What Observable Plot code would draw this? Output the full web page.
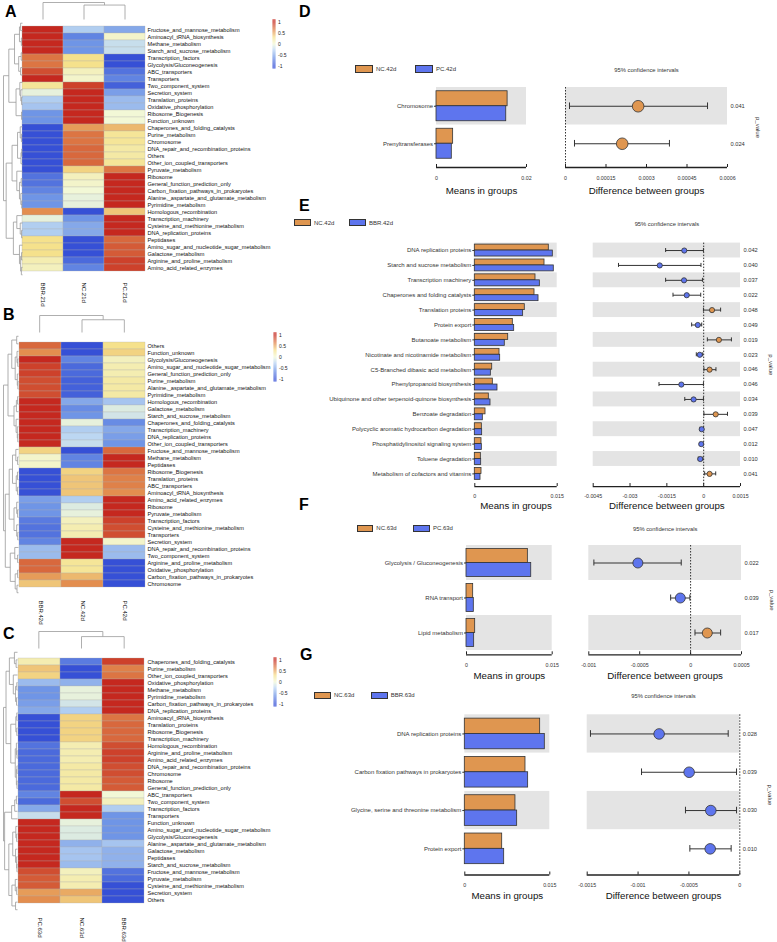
<!DOCTYPE html>
<html><head><meta charset="utf-8">
<script src="https://cdn.jsdelivr.net/npm/d3@7"></script>
<script src="https://cdn.jsdelivr.net/npm/@observablehq/plot@0.6"></script>
<style>
body{margin:0;background:#fff;}
#fig{position:relative;width:777px;height:942px;overflow:hidden;font-family:"Liberation Sans",Arial,sans-serif;background:#fff;}
.letter{position:absolute;font-weight:bold;font-size:16px;line-height:16px;color:#000;}
.lbox{position:absolute;box-sizing:border-box;border:1px solid #333;}
.ltxt{position:absolute;font-size:6px;color:#333;white-space:nowrap;}
</style>
</head><body><div id="fig"></div>
<script>
// ---------------- Heatmap data ----------------
const A_COLS = ["BBR.21d", "NC.21d", "PC.21d"];
const A_ROWS = ["Fructose_and_mannose_metabolism","Aminoacyl_tRNA_biosynthesis","Methane_metabolism","Starch_and_sucrose_metabolism","Transcription_factors","Glycolysis/Gluconeogenesis","ABC_transporters","Transporters","Two_component_system","Secretion_system","Translation_proteins","Oxidative_phosphorylation","Ribosome_Biogenesis","Function_unknown","Chaperones_and_folding_catalysts","Purine_metabolism","Chromosome","DNA_repair_and_recombination_proteins","Others","Other_ion_coupled_transporters","Pyruvate_metabolism","Ribosome","General_function_prediction_only","Carbon_fixation_pathways_in_prokaryotes","Alanine,_aspartate_and_glutamate_metabolism","Pyrimidine_metabolism","Homologous_recombination","Transcription_machinery","Cysteine_and_methionine_metabolism","DNA_replication_proteins","Peptidases","Amino_sugar_and_nucleotide_sugar_metabolism","Galactose_metabolism","Arginine_and_proline_metabolism","Amino_acid_related_enzymes"];
const A_VALUES = [[1.0,-0.3,-0.5],[1.0,-0.7,0.05],[1.0,-0.6,-0.2],[1.0,-0.6,-0.2],[0.7,0.3,-1.0],[0.7,0.3,-1.0],[0.85,0.1,-0.8],[1.0,0.05,-0.7],[0.25,0.9,-0.9],[-0.05,1.0,-0.55],[-0.3,1.0,-0.4],[-0.35,1.0,-0.4],[-0.6,1.0,0.0],[-0.6,1.0,0.0],[-1.0,0.55,0.45],[-1.0,0.7,0.25],[-1.0,0.7,0.25],[-1.0,0.75,0.2],[-1.0,0.75,0.2],[-1.0,0.75,0.25],[-1.0,0.35,0.7],[-0.8,0.1,1.0],[-0.8,0.05,1.0],[-0.7,0.0,1.0],[-0.6,-0.05,1.0],[-0.6,-0.05,1.0],[0.6,-1.0,0.4],[-0.05,-0.6,1.0],[-0.3,-0.5,1.0],[-0.3,-0.5,1.0],[0.3,-1.0,0.75],[0.3,-1.0,0.8],[0.3,-1.0,0.8],[0.15,-0.85,0.9],[0.1,-0.7,0.9]];
const A_TREE = [1.0,
  [0.72, [0.42, [0.16, [0.1, 0, 1], [0.06, 2, 3]], [0.2, [0.07, 4, 5], [0.1, 6, 7]]],
         [0.34, [0.14, 8, [0.09, 9, [0.05, 10, 11]]], [0.05, 12, 13]]],
  [0.86, [0.55, [0.26, [0.12, 14, [0.06, 15, 16]], [0.08, [0.04, 17, 18], 19]], [0.3, 20, [0.16, [0.07, 21, 22], [0.09, 23, [0.04, 24, 25]]]]],
         [0.48, [0.3, 26, [0.12, 27, [0.05, 28, 29]]], [0.16, 30, [0.1, [0.05, 31, 32], [0.06, 33, 34]]]]]];
const A_COLTREE = [1.0, 0, [0.85, 1, 2]];

const B_COLS = ["BBR.42d", "NC.42d", "PC.42d"];
const B_ROWS = ["Others","Function_unknown","Glycolysis/Gluconeogenesis","Amino_sugar_and_nucleotide_sugar_metabolism","General_function_prediction_only","Purine_metabolism","Alanine,_aspartate_and_glutamate_metabolism","Pyrimidine_metabolism","Homologous_recombination","Galactose_metabolism","Starch_and_sucrose_metabolism","Chaperones_and_folding_catalysts","Transcription_machinery","DNA_replication_proteins","Other_ion_coupled_transporters","Fructose_and_mannose_metabolism","Methane_metabolism","Peptidases","Ribosome_Biogenesis","Translation_proteins","ABC_transporters","Aminoacyl_tRNA_biosynthesis","Amino_acid_related_enzymes","Ribosome","Pyruvate_metabolism","Transcription_factors","Cysteine_and_methionine_metabolism","Transporters","Secretion_system","DNA_repair_and_recombination_proteins","Two_component_system","Arginine_and_proline_metabolism","Oxidative_phosphorylation","Carbon_fixation_pathways_in_prokaryotes","Chromosome"];
const B_VALUES = [[0.75,-1.0,0.3],[0.6,-1.0,0.35],[1.0,-0.7,0.1],[0.9,-0.85,0.15],[0.9,-0.85,0.15],[0.85,-0.9,0.2],[0.85,-0.9,0.2],[0.85,-0.9,0.2],[1.0,-0.5,-0.35],[1.0,-0.65,-0.1],[1.0,-0.6,-0.15],[1.0,-0.05,-0.65],[1.0,-0.3,-0.5],[1.0,-0.25,-0.55],[1.0,-0.2,-0.6],[0.35,-1.0,0.75],[0.05,-0.7,1.0],[0.05,-0.7,1.0],[-1.0,0.35,0.7],[-1.0,0.4,0.65],[-1.0,0.4,0.65],[-1.0,0.4,0.6],[-0.55,-0.3,1.0],[-0.6,-0.1,1.0],[-0.6,-0.05,1.0],[-0.75,0.1,0.9],[-0.8,0.15,0.85],[-0.8,0.15,0.85],[-0.7,1.0,0.05],[-0.4,1.0,-0.4],[-0.4,1.0,-0.4],[0.75,0.25,-1.0],[0.75,0.25,-1.0],[0.55,0.45,-1.0],[0.4,0.6,-1.0]];
const B_TREE = [1.0,
  [0.7, [0.45, [0.12, 0, 1], [0.22, [0.1, 2, [0.05, 3, 4]], [0.08, 5, [0.04, 6, 7]]]],
        [0.3, [0.14, [0.06, 8, 9], 10], [0.16, 11, [0.08, 12, [0.05, 13, 14]]]]],
  [0.88, [0.62, [0.4, [0.18, 15, [0.06, 16, 17]], [0.15, [0.07, 18, 19], [0.06, 20, 21]]], [0.3, [0.12, 22, [0.06, 23, 24]], [0.12, 25, [0.05, 26, 27]]]],
         [0.55, [0.25, 28, [0.06, 29, 30]], [0.22, [0.06, 31, 32], [0.1, 33, 34]]]]];
const B_COLTREE = [1.0, 0, [0.75, 1, 2]];

const C_COLS = ["PC.63d", "NC.63d", "BBR.63d"];
const C_ROWS = ["Chaperones_and_folding_catalysts","Purine_metabolism","Other_ion_coupled_transporters","Oxidative_phosphorylation","Methane_metabolism","Pyrimidine_metabolism","Carbon_fixation_pathways_in_prokaryotes","DNA_replication_proteins","Aminoacyl_tRNA_biosynthesis","Translation_proteins","Ribosome_Biogenesis","Transcription_machinery","Homologous_recombination","Arginine_and_proline_metabolism","Amino_acid_related_enzymes","DNA_repair_and_recombination_proteins","Chromosome","Ribosome","General_function_prediction_only","ABC_transporters","Two_component_system","Transcription_factors","Transporters","Function_unknown","Amino_sugar_and_nucleotide_sugar_metabolism","Glycolysis/Gluconeogenesis","Alanine,_aspartate_and_glutamate_metabolism","Galactose_metabolism","Peptidases","Starch_and_sucrose_metabolism","Fructose_and_mannose_metabolism","Pyruvate_metabolism","Cysteine_and_methionine_metabolism","Secretion_system","Others"];
const C_VALUES = [[0.15,-0.75,0.9],[0.4,-1.0,0.65],[0.35,-1.0,0.7],[-0.4,-0.45,1.0],[-0.6,-0.05,1.0],[-0.6,-0.05,1.0],[-0.55,-0.15,1.0],[-0.5,-0.3,1.0],[-1.0,0.35,0.7],[-1.0,0.35,0.75],[-1.0,0.35,0.75],[-1.0,0.35,0.75],[-0.8,0.15,0.85],[-0.85,0.15,0.9],[-0.85,0.15,0.9],[-0.85,0.2,0.85],[-0.85,0.2,0.85],[-0.85,0.2,0.8],[-0.85,0.2,0.8],[-0.7,1.0,0.0],[-0.85,0.85,0.1],[-0.5,1.0,-0.3],[-0.2,1.0,-0.6],[1.0,-0.05,-0.6],[1.0,-0.1,-0.6],[1.0,-0.1,-0.6],[1.0,-0.45,-0.35],[1.0,-0.35,-0.45],[1.0,-0.35,-0.45],[1.0,-0.4,-0.45],[0.85,0.1,-0.8],[0.8,0.15,-0.85],[0.8,0.15,-1.0],[0.55,0.5,-1.0],[0.6,0.4,-1.0]];
const C_TREE = [1.0,
  [0.82, [0.58, [0.22, 0, [0.1, 1, 2]], [0.3, 3, [0.14, [0.05, 4, 5], [0.07, 6, 7]]]],
         [0.48, [0.12, [0.05, 8, 9], [0.05, 10, 11]], [0.16, [0.08, 12, [0.04, 13, 14]], [0.08, [0.04, 15, 16], [0.04, 17, 18]]]]],
  [0.92, [0.42, [0.2, [0.08, 19, 20], 21], 22],
         [0.62, [0.34, [0.12, 23, [0.06, 24, 25]], [0.14, 26, [0.06, 27, [0.04, 28, 29]]]], [0.4, [0.16, 30, [0.06, 31, 32]], [0.14, 33, 34]]]]];
const C_COLTREE = [1.0, 0, [0.7, 1, 2]];

const LEGEND_TICKS = [-1, -0.5, 0, 0.5, 1];

// ---------------- STAMP data ----------------
const D_GROUPS = ["NC.42d", "PC.42d"];
const D_CATS = ["Chromosome", "Prenyltransferases"];
const D_MEAN1 = [0.0158, 0.0037];
const D_MEAN2 = [0.0155, 0.0034];
const D_DIFF = [0.000269, 0.00021];
const D_LO = [0.0000148, 0.0000333];
const D_HI = [0.000526, 0.000385];
const D_P = ["0.041", "0.024"];
const D_MTICKS = [0, 0.02], D_MLABELS = ["0", "0.02"];
const D_DTICKS = [0, 0.00015, 0.0003, 0.00045, 0.0006], D_DLABELS = ["0", "0.00015", "0.0003", "0.00045", "0.0006"];

const E_GROUPS = ["NC.42d", "BBR.42d"];
const E_CATS = ["DNA replication proteins","Starch and sucrose metabolism","Transcription machinery","Chaperones and folding catalysts","Translation proteins","Protein export","Butanoate metabolism","Nicotinate and nicotinamide metabolism","C5-Branched dibasic acid metabolism","Phenylpropanoid biosynthesis","Ubiquinone and other terpenoid-quinone biosynthesis","Benzoate degradation","Polycyclic aromatic hydrocarbon degradation","Phosphatidylinositol signaling system","Toluene degradation","Metabolism of cofactors and vitamins"];
const E_MEAN1 = [0.01347,0.01269,0.01105,0.01087,0.0091,0.00692,0.00608,0.0045,0.00317,0.00328,0.00255,0.00195,0.00128,0.00122,0.0011,0.00122];
const E_MEAN2 = [0.0142,0.01438,0.01184,0.0116,0.0088,0.00717,0.00546,0.00462,0.00292,0.00413,0.00286,0.00146,0.00134,0.00128,0.00116,0.00104];
const E_DIFF = [-0.00079,-0.00179,-0.0008,-0.00069,0.00034,-0.00024,0.00062,-0.00016,0.00024,-0.00091,-0.00041,0.00049,-0.00008,-0.0001,-0.00014,0.00024];
const E_LO = [-0.00155,-0.00347,-0.00155,-0.00125,-0.00001,-0.00049,0.00015,-0.0003,0.00001,-0.00182,-0.00077,0.00001,-0.00015,-0.00015,-0.00022,0.00004];
const E_HI = [-0.00001,-0.00011,-0.00005,-0.00012,0.00069,-0.00008,0.00113,-0.00004,0.0005,-0.00001,-0.00001,0.00097,-0.00001,-0.00003,-0.00003,0.00049];
const E_P = ["0.042","0.040","0.037","0.022","0.048","0.049","0.019","0.023","0.046","0.046","0.034","0.039","0.047","0.012","0.010","0.041"];
const E_MTICKS = [0, 0.015], E_MLABELS = ["0", "0.015"];
const E_DTICKS = [-0.0045, -0.003, -0.0015, 0, 0.0015], E_DLABELS = ["-0.0045", "-0.003", "-0.0015", "0", "0.0015"];

const F_GROUPS = ["NC.63d", "PC.63d"];
const F_CATS = ["Glycolysis / Gluconeogenesis", "RNA transport", "Lipid metabolism"];
const F_MEAN1 = [0.01074, 0.00117, 0.00152];
const F_MEAN2 = [0.01133, 0.00128, 0.00134];
const F_DIFF = [-0.000518, -0.000101, 0.000164];
const F_LO = [-0.00095, -0.000196, 0.000043];
const F_HI = [-0.000092, -0.000007, 0.000295];
const F_P = ["0.022", "0.039", "0.017"];
const F_MTICKS = [0, 0.015], F_MLABELS = ["0", "0.015"];
const F_DTICKS = [-0.001, -0.0005, 0, 0.0005], F_DLABELS = ["-0.001", "-0.0005", "0", "0.0005"];

const G_GROUPS = ["NC.63d", "BBR.63d"];
const G_CATS = ["DNA replication proteins", "Carbon fixation pathways in prokaryotes", "Glycine, serine and threonine metabolism", "Protein export"];
const G_MEAN1 = [0.0133, 0.01071, 0.00894, 0.0066];
const G_MEAN2 = [0.01412, 0.01118, 0.00924, 0.00695];
const G_DIFF = [-0.000793, -0.000498, -0.000285, -0.000291];
const G_LO = [-0.001468, -0.000966, -0.000534, -0.000491];
const G_HI = [-0.000114, -0.000032, -0.000032, -0.000085];
const G_P = ["0.028", "0.039", "0.030", "0.010"];
const G_MTICKS = [0, 0.015], G_MLABELS = ["0", "0.015"];
const G_DTICKS = [-0.0015, -0.001, -0.0005, 0], G_DLABELS = ["-0.0015", "-0.001", "-0.0005", "0"];

// ---------------- styling ----------------
const FONT = '"Liberation Sans", Arial, sans-serif';
const STYLE = {background: "transparent", overflow: "visible", fontFamily: FONT};
const ORANGE = "#DF9650", BLUE = "#5E75EE", GRAY = "#E4E4E4", INK = "#333";
const COLOR = {type: "linear", domain: [-1, -0.6, -0.25, 0, 0.3, 0.6, 1],
  range: ["#3650D6", "#6F95E6", "#BCD7F2", "#F2F8D6", "#F5E18C", "#E38E4F", "#C5281F"], clamp: true};

const fig = document.getElementById("fig");
function place(svg) { svg.style.position = "absolute"; svg.style.left = "0px"; svg.style.top = "0px"; fig.appendChild(svg); }
const frame = (x0, x1, y0, y1) => ({width: 777, height: 942, marginLeft: x0, marginRight: 777 - x1, marginTop: y0, marginBottom: 942 - y1});
function div(cls, css, text) { const e = document.createElement("div"); e.className = cls; Object.assign(e.style, css); if (text) e.textContent = text; fig.appendChild(e); }

function dendroSegs(tree) {
  const segs = [];
  (function walk(n) {
    if (typeof n === "number") return {pos: n + 0.5, h: 0};
    const [h, a, b] = n; const A = walk(a), B = walk(b);
    segs.push({p1: A.pos, h1: A.h, p2: A.pos, h2: h});
    segs.push({p1: B.pos, h1: B.h, p2: B.pos, h2: h});
    segs.push({p1: A.pos, h1: h, p2: B.pos, h2: h});
    return {pos: (A.pos + B.pos) / 2, h};
  })(tree);
  return segs;
}

function heatmap(rows, cols, vals, tree, colTree, box) {
  const data = [];
  rows.forEach((r, i) => cols.forEach((c, j) => data.push({r, c, v: vals[i][j]})));
  place(Plot.plot({
    ...frame(box.x0, box.x1, box.y0, box.y1), style: STYLE,
    x: {domain: cols, padding: 0}, y: {domain: rows, padding: 0}, color: COLOR,
    marks: [
      Plot.cell(data, {x: "c", y: "r", fill: "v", inset: 0, stroke: "#b0b0b0", strokeWidth: 0.3}),
      Plot.axisY({anchor: "right", tickSize: 0, tickPadding: 2, fontSize: 5.6, label: null, color: "#111"}),
      Plot.axisX({anchor: "bottom", tickSize: 0, tickPadding: 4, tickRotate: 90, fontSize: 6, label: null, color: "#111"})
    ]
  }));
  place(Plot.plot({
    ...frame(box.dx, box.x0, box.y0, box.y1), style: STYLE,
    x: {domain: [1, 0], axis: null}, y: {domain: [0, rows.length], range: [box.y0, box.y1], axis: null},
    marks: [Plot.link(dendroSegs(tree), {x1: "h1", y1: "p1", x2: "h2", y2: "p2", stroke: "#9a9a9a", strokeWidth: 0.8})]
  }));
  place(Plot.plot({
    ...frame(box.x0, box.x1, box.dy, box.y0), style: STYLE,
    x: {domain: [0, cols.length], axis: null}, y: {domain: [0, 1], axis: null},
    marks: [Plot.link(dendroSegs(colTree), {x1: "p1", y1: "h1", x2: "p2", y2: "h2", stroke: "#9a9a9a", strokeWidth: 0.8})]
  }));
  const steps = d3.range(-1.12, 1.12, 0.01);
  place(Plot.plot({
    ...frame(box.cx, box.cx + 3, box.cy0, box.cy1), style: STYLE,
    x: {domain: [0, 1], axis: null}, y: {domain: [-1.12, 1.12]}, color: COLOR,
    marks: [
      Plot.rect(steps, {x1: 0, x2: 1, y1: d => d, y2: d => d + 0.0105, fill: d => Math.max(-1, Math.min(1, d))}),
      Plot.axisY({anchor: "right", ticks: LEGEND_TICKS, tickFormat: d => String(d), tickSize: 0, tickPadding: 2, fontSize: 5, label: null, color: "#222"})
    ]
  }));
}

function stamp(c) {
  const n = c.cats.length;
  const yBottom = c.yTop + n * c.rowPx;
  const axisPos = yBottom + c.gap;
  const rows = c.cats.map((name, i) => ({i, name, a: c.m1[i], b: c.m2[i], d: c.diff[i], lo: c.lo[i], hi: c.hi[i], p: c.p[i]}));
  const bands = rows.filter(r => r.i % 2 === 0);
  const common = (dom, ticks, labels, title) => [
    Plot.ruleY([n], {x1: dom[0], x2: dom[1], dy: c.gap, stroke: "#222", strokeWidth: 1.3}),
    Plot.ruleX(ticks, {x: d => d, y1: n, y2: n, insetTop: c.gap - 3, insetBottom: -c.gap, stroke: "#222", strokeWidth: 1}),
    Plot.text(ticks, {x: d => d, y: n, dy: c.gap + c.tickOff, text: (d, i) => labels[i], fontSize: 5.3, fill: INK}),
    Plot.text([title], {frameAnchor: "bottom", dy: c.titleOff, text: d => d, fontSize: 9.7, lineAnchor: "middle", textAnchor: "middle", fill: "#111"})
  ];
  place(Plot.plot({
    ...frame(c.mx[0], c.mx[1], c.yTop, axisPos), style: STYLE,
    x: {domain: c.mdom, axis: null}, y: {domain: [0, n], range: [c.yTop, yBottom]},
    marks: [
      Plot.rect(bands, {x1: c.mdom[0], x2: c.mdom[1], y1: "i", y2: d => d.i + 1, fill: GRAY}),
      Plot.rect(rows, {x1: 0, x2: "a", y1: d => d.i + 0.1, y2: d => d.i + 0.5, fill: ORANGE, stroke: INK, strokeWidth: 0.8}),
      Plot.rect(rows, {x1: 0, x2: "b", y1: d => d.i + 0.5, y2: d => d.i + 0.9, fill: BLUE, stroke: INK, strokeWidth: 0.8}),
      Plot.axisY({anchor: "left", ticks: rows.map(d => d.i + 0.5), tickFormat: v => c.cats[Math.floor(v)], tickSize: 2, tickPadding: 1.5, fontSize: 6, label: null, color: INK}),
      ...common(c.mdom, c.mticks, c.mlabels, "Means in groups")
    ]
  }));
  place(Plot.plot({
    ...frame(c.dx[0], c.dx[1], c.yTop, axisPos), style: STYLE,
    x: {domain: c.ddom, axis: null}, y: {domain: [0, n], range: [c.yTop, yBottom], axis: null},
    marks: [
      Plot.rect(bands, {x1: c.ddom[0], x2: c.ddom[1], y1: "i", y2: d => d.i + 1, fill: GRAY}),
      Plot.ruleX([0], {y1: 0, y2: n, insetBottom: -c.gap, stroke: INK, strokeDasharray: "1.5,1.5", strokeWidth: 1}),
      Plot.link(rows, {x1: "lo", x2: "hi", y1: d => d.i + 0.5, y2: d => d.i + 0.5, stroke: INK, strokeWidth: 1}),
      Plot.ruleX(rows, {x: "lo", y1: d => d.i + 0.5, y2: d => d.i + 0.5, insetTop: -c.cap, insetBottom: -c.cap, stroke: INK, strokeWidth: 1}),
      Plot.ruleX(rows, {x: "hi", y1: d => d.i + 0.5, y2: d => d.i + 0.5, insetTop: -c.cap, insetBottom: -c.cap, stroke: INK, strokeWidth: 1}),
      Plot.dot(rows.filter(d => d.d > 0), {x: "d", y: d => d.i + 0.5, r: c.r, fill: ORANGE, stroke: INK, strokeWidth: 0.8}),
      Plot.dot(rows.filter(d => d.d < 0), {x: "d", y: d => d.i + 0.5, r: c.r, fill: BLUE, stroke: INK, strokeWidth: 0.8}),
      Plot.text(rows, {y: d => d.i + 0.5, text: "p", frameAnchor: "right", dx: 3, textAnchor: "start", lineAnchor: "middle", fontSize: 5.7, fill: INK}),
      Plot.text(["p_value"], {frameAnchor: "right", dx: 30, rotate: 90, text: d => d, fontSize: 6, textAnchor: "middle", lineAnchor: "middle", fill: INK}),
      Plot.text(["95% confidence intervals"], {frameAnchor: "top", dy: -c.ciOff, text: d => d, fontSize: 5.8, textAnchor: "middle", lineAnchor: "middle", fill: INK}),
      ...common(c.ddom, c.dticks, c.dlabels, "Difference between groups")
    ]
  }));
  const [ox, bx, ly, lw, lh] = c.legend;
  div("lbox", {left: ox + "px", top: ly + "px", width: lw + "px", height: lh + "px", background: ORANGE});
  div("ltxt", {left: (ox + lw + 3) + "px", top: (ly + lh / 2 - 4) + "px", lineHeight: "8px"}, c.groups[0]);
  div("lbox", {left: bx + "px", top: ly + "px", width: lw + "px", height: lh + "px", background: BLUE});
  div("ltxt", {left: (bx + lw + 3) + "px", top: (ly + lh / 2 - 4) + "px", lineHeight: "8px"}, c.groups[1]);
}

// ---------------- draw ----------------
heatmap(A_ROWS, A_COLS, A_VALUES, A_TREE, A_COLTREE, {x0: 22, x1: 145, y0: 19, y1: 278, dx: 3, dy: 2, cx: 272.5, cy0: 19.5, cy1: 68.5});
heatmap(B_ROWS, B_COLS, B_VALUES, B_TREE, B_COLTREE, {x0: 18, x1: 145, y0: 332, y1: 596, dx: 3, dy: 315, cx: 273.5, cy0: 332.5, cy1: 381.5});
heatmap(C_ROWS, C_COLS, C_VALUES, C_TREE, C_COLTREE, {x0: 17, x1: 145, y0: 648, y1: 913, dx: 3, dy: 631, cx: 273.5, cy0: 657.5, cy1: 706.5});

stamp({cats: D_CATS, groups: D_GROUPS, m1: D_MEAN1, m2: D_MEAN2, diff: D_DIFF, lo: D_LO, hi: D_HI, p: D_P,
  mx: [436, 526], mdom: [0, 0.02], mticks: D_MTICKS, mlabels: D_MLABELS,
  dx: [565, 727], ddom: [0, 0.0006], dticks: D_DTICKS, dlabels: D_DLABELS,
  yTop: 87, rowPx: 37.5, gap: 5, tickOff: 11, titleOff: 23, ciOff: 17, r: 5.8, cap: 3.3, legend: [355, 415, 65, 18, 7.5]});
stamp({cats: E_CATS, groups: E_GROUPS, m1: E_MEAN1, m2: E_MEAN2, diff: E_DIFF, lo: E_LO, hi: E_HI, p: E_P,
  mx: [474.3, 556.7], mdom: [0, 0.015], mticks: E_MTICKS, mlabels: E_MLABELS,
  dx: [592.7, 740], ddom: [-0.0045, 0.0015], dticks: E_DTICKS, dlabels: E_DLABELS,
  yTop: 242.6, rowPx: 14.89, gap: 5.2, tickOff: 10, titleOff: 19, ciOff: 18.6, r: 2.6, cap: 2, legend: [294, 349, 219, 17, 7]});
stamp({cats: F_CATS, groups: F_GROUPS, m1: F_MEAN1, m2: F_MEAN2, diff: F_DIFF, lo: F_LO, hi: F_HI, p: F_P,
  mx: [466, 551.7], mdom: [0, 0.015], mticks: F_MTICKS, mlabels: F_MLABELS,
  dx: [588.3, 741], ddom: [-0.001, 0.0005], dticks: F_DTICKS, dlabels: F_DLABELS,
  yTop: 545, rowPx: 35, gap: 4.3, tickOff: 10.7, titleOff: 20.7, ciOff: 16, r: 5, cap: 3, legend: [356.7, 413.3, 525, 16.6, 6.8]});
stamp({cats: G_CATS, groups: G_GROUPS, m1: G_MEAN1, m2: G_MEAN2, diff: G_DIFF, lo: G_LO, hi: G_HI, p: G_P,
  mx: [464.3, 549.3], mdom: [0, 0.015], mticks: G_MTICKS, mlabels: G_MLABELS,
  dx: [586.7, 739.3], ddom: [-0.0015, 0], dticks: G_DTICKS, dlabels: G_DLABELS,
  yTop: 714.3, rowPx: 38.3, gap: 7, tickOff: 10, titleOff: 20.7, ciOff: 18.3, r: 5.3, cap: 3.3, legend: [314.3, 371, 691.7, 16.7, 7.3]});

[["A", 5, 4], ["B", 3, 307], ["C", 3, 626], ["D", 299, 4], ["E", 299, 198], ["F", 299, 497], ["G", 300, 647]]
  .forEach(([t, x, y]) => div("letter", {left: x + "px", top: y + "px"}, t));
</script></body></html>
